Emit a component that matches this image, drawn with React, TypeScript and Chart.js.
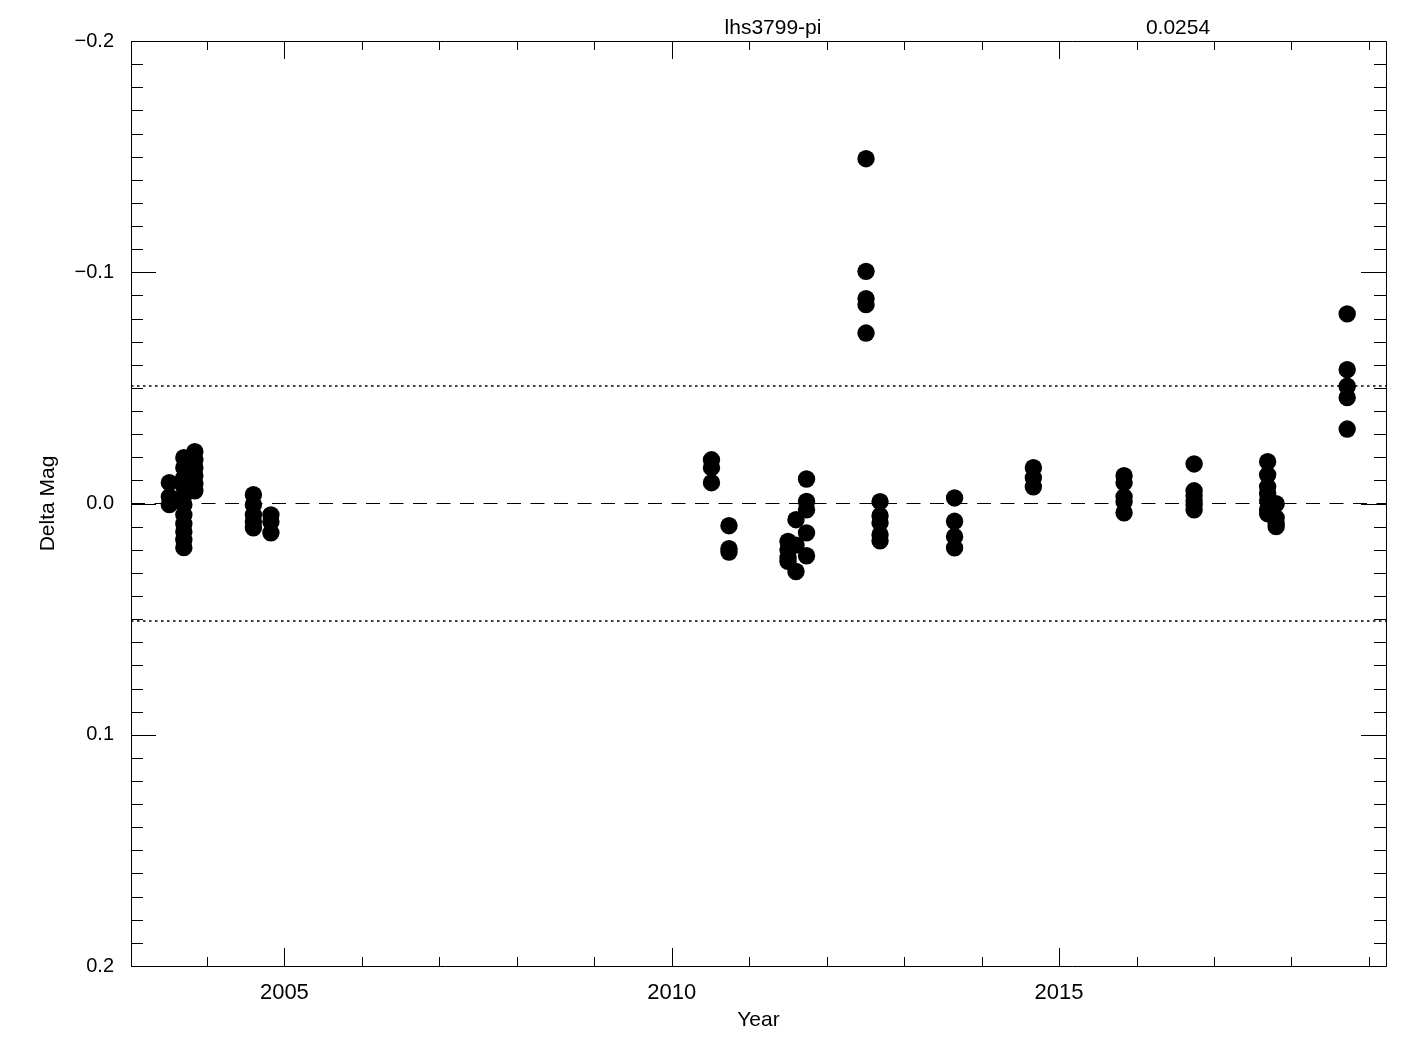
import React, { useEffect, useRef } from "react";
import { Chart, registerables } from "chart.js";

Chart.register(...registerables);

// ---- data ----
const epochYears: number[] = [
  2003.515, 2003.702, 2003.844, 2004.6, 2004.826,
  2010.513, 2010.739, 2011.501, 2011.604, 2011.74,
  2012.508, 2012.689, 2013.651, 2014.668, 2015.839,
  2016.743, 2017.692, 2017.802, 2018.719,
];
const epochMags: number[][] = [
  [-0.009, -0.0029, 0.0005],
  [0.0191, 0.0157, 0.0122, 0.0088, 0.0049, 0.0005, -0.0034, -0.0072, -0.0111, -0.0155, -0.0198],
  [-0.0224, -0.0189, -0.0155, -0.012, -0.0085, -0.0055],
  [-0.0038, 0.0005, 0.0049, 0.0079, 0.0105],
  [0.0049, 0.0079, 0.0127],
  [-0.0189, -0.0155, -0.009],
  [0.0096, 0.0195, 0.021],
  [0.0164, 0.02, 0.0235, 0.025],
  [0.007, 0.018, 0.0294],
  [-0.0106, -0.0009, 0.0027, 0.0127, 0.0226],
  [-0.1491, -0.1004, -0.0886, -0.086, -0.0737],
  [-0.0008, 0.0053, 0.0083, 0.0135, 0.0161],
  [-0.0024, 0.0077, 0.0143, 0.0192],
  [-0.0155, -0.0111, -0.0072],
  [-0.012, -0.009, -0.0029, -0.0008, 0.004],
  [-0.0171, -0.0055, -0.0034, -0.0012, 0.0005, 0.0027],
  [-0.0181, -0.0124, -0.0072, -0.0042, -0.0012, 0.0027, 0.0044],
  [0.0001, 0.0062, 0.0088, 0.01],
  [-0.082, -0.0579, -0.0507, -0.0458, -0.0322],
];
const sigma = 0.0254;
const xRange: number[] = [2003.02, 2019.22];
const yRange: number[] = [-0.2, 0.2];
const xTickValues: number[] = [2005, 2010, 2015];
const xTickLabels: string[] = ["2005", "2010", "2015"];
const yTickValues: number[] = [-0.2, -0.1, 0, 0.1, 0.2];
const yTickLabels: string[] = ["\u22120.2", "\u22120.1", "0.0", "0.1", "0.2"];
const starName = "lhs3799-pi";
const sigmaLabel = "0.0254";

const FONT = "'Liberation Sans', Arial, sans-serif";

const frameAndTicks = {
  id: "frameAndTicks",
  afterDraw(chart: any) {
    const { ctx, chartArea, scales } = chart;
    const { left, right, top, bottom } = chartArea;
    const xs = scales.x;
    const ys = scales.y;
    ctx.save();
    ctx.strokeStyle = "#000";
    ctx.lineWidth = 1;
    ctx.beginPath();
    ctx.rect(Math.round(left) + 0.5, Math.round(top) + 0.5, Math.round(right - left), Math.round(bottom - top));
    ctx.stroke();
    // y ticks (inward, both sides)
    ctx.beginPath();
    for (let i = -20; i <= 20; i++) {
      const v = i / 100;
      const py = Math.round(ys.getPixelForValue(v)) + 0.5;
      const len = i % 10 === 0 ? 25 : 12;
      ctx.moveTo(left, py);
      ctx.lineTo(left + len, py);
      ctx.moveTo(right, py);
      ctx.lineTo(right - len, py);
    }
    // x ticks (inward, top & bottom)
    for (let yr = Math.ceil(xRange[0]); yr <= Math.floor(xRange[1]); yr++) {
      const px = Math.round(xs.getPixelForValue(yr)) + 0.5;
      const len = yr % 5 === 0 ? 18 : 9;
      ctx.moveTo(px, bottom);
      ctx.lineTo(px, bottom - len);
      ctx.moveTo(px, top);
      ctx.lineTo(px, top + len);
    }
    ctx.stroke();
    // header texts
    ctx.fillStyle = "#000";
    ctx.font = `21px ${FONT}`;
    ctx.textAlign = "center";
    ctx.textBaseline = "alphabetic";
    ctx.fillText(starName, 773, 34);
    ctx.fillText(sigmaLabel, 1178, 34);
    ctx.restore();
  },
};

export default function App() {
  const ref = useRef<HTMLCanvasElement | null>(null);
  useEffect(() => {
    if (!ref.current) return;
    const points: { x: number; y: number }[] = [];
    epochYears.forEach((yr, i) => {
      epochMags[i].forEach((m) => points.push({ x: yr, y: m }));
    });
    const hline = (v: number) => [
      { x: xRange[0], y: v },
      { x: xRange[1], y: v },
    ];
    const chart = new Chart(ref.current, {
      type: "scatter",
      data: {
        datasets: [
          {
            type: "line",
            data: hline(0),
            borderColor: "#000",
            borderWidth: 1,
            borderDash: [14, 9.5],
            pointRadius: 0,
            fill: false,
          } as any,
          {
            type: "line",
            data: hline(2 * sigma),
            borderColor: "#000",
            borderWidth: 1.4,
            borderDash: [2.5, 3.5],
            pointRadius: 0,
            fill: false,
          } as any,
          {
            type: "line",
            data: hline(-2 * sigma),
            borderColor: "#000",
            borderWidth: 1.4,
            borderDash: [2.5, 3.5],
            pointRadius: 0,
            fill: false,
          } as any,
          {
            type: "scatter",
            data: points,
            backgroundColor: "#000",
            borderWidth: 0,
            pointRadius: 8.7,
            pointHoverRadius: 8.7,
          },
        ],
      },
      options: {
        responsive: false,
        animation: false,
        events: [],
        layout: { padding: { top: 41, right: 39, left: 0, bottom: 0 } },
        plugins: {
          legend: { display: false },
          tooltip: { enabled: false },
          title: { display: false },
        },
        scales: {
          x: {
            type: "linear",
            position: "bottom",
            min: xRange[0],
            max: xRange[1],
            grid: { display: false },
            border: { display: false },
            afterBuildTicks: (scale: any) => {
              scale.ticks = xTickValues.map((v) => ({ value: v }));
            },
            afterFit: (scale: any) => {
              scale.height = 84;
            },
            ticks: {
              color: "#000",
              padding: 6,
              font: { family: FONT, size: 22 },
              maxRotation: 0,
              callback: (v: any) => {
                const i = xTickValues.indexOf(Number(v));
                return i >= 0 ? xTickLabels[i] : "";
              },
            },
            title: {
              display: true,
              text: "Year",
              color: "#000",
              font: { family: FONT, size: 21 },
              padding: { top: 0, bottom: 17 },
            },
          },
          y: {
            type: "linear",
            reverse: true,
            min: yRange[0],
            max: yRange[1],
            grid: { display: false },
            border: { display: false },
            afterBuildTicks: (scale: any) => {
              scale.ticks = yTickValues.map((v) => ({ value: v }));
            },
            afterFit: (scale: any) => {
              scale.width = 131;
            },
            ticks: {
              color: "#000",
              padding: 9,
              font: { family: FONT, size: 20 },
              callback: (v: any) => {
                const i = yTickValues.findIndex((t) => Math.abs(t - Number(v)) < 1e-9);
                return i >= 0 ? yTickLabels[i] : "";
              },
            },
            title: {
              display: true,
              text: "Delta Mag",
              color: "#000",
              font: { family: FONT, size: 21 },
              padding: { top: 36, bottom: 0 },
            },
          },
        },
      },
      plugins: [frameAndTicks],
    } as any);
    return () => chart.destroy();
  }, []);
  return (
    <div style={{ position: "absolute", left: 0, top: 0, width: 1425, height: 1050, background: "#fff" }}>
      <canvas ref={ref} width={1425} height={1050} style={{ width: 1425, height: 1050, display: "block" }} />
    </div>
  );
}
